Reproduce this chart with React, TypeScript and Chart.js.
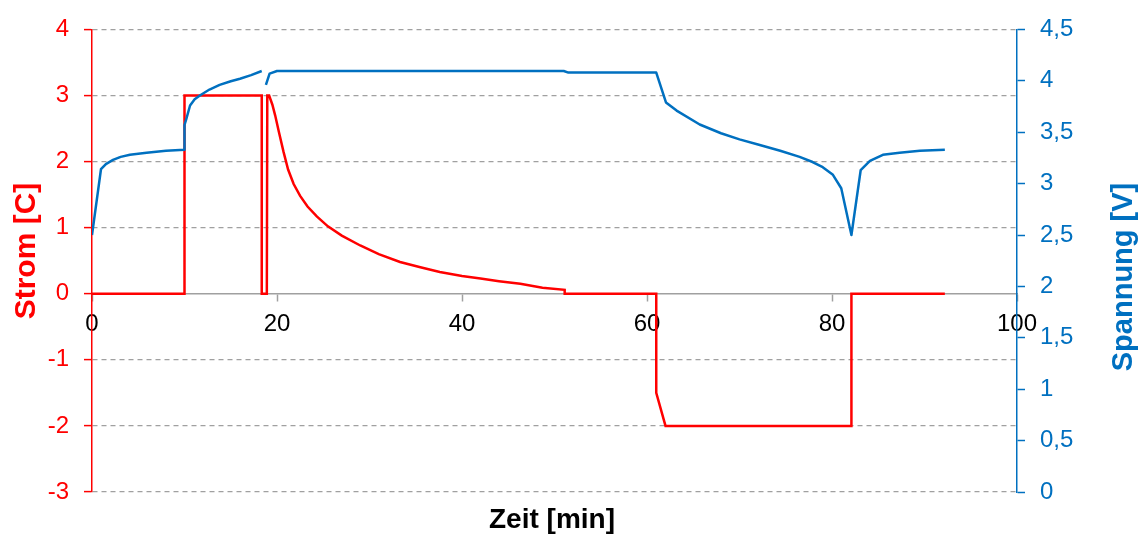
import React, { useEffect, useRef } from 'react';
import { Chart, registerables } from 'chart.js';

Chart.register(...registerables);

// ---- Data ----
const currentTime = [0, 10, 10, 18.35, 18.35, 18.9, 18.95, 19.15, 19.5, 19.8, 20.2, 20.7, 21.2, 21.8, 22.5, 23.3, 24.3, 25.5, 27, 29, 31, 33.3, 35.5, 37.6, 40, 42, 44, 46.3, 48.7, 51.1, 51.1, 61.0, 61.0, 62.0, 82.1, 82.1, 92.2];
const currentValues = [0, 0, 3, 3, 0, 0, 3, 3, 2.86, 2.7, 2.45, 2.15, 1.88, 1.66, 1.48, 1.32, 1.17, 1.02, 0.88, 0.73, 0.6, 0.48, 0.4, 0.33, 0.27, 0.23, 0.19, 0.15, 0.09, 0.06, 0, 0, -1.5, -2, -2, 0, 0];

const voltageTime = [0, 0.97, 1.5, 2.27, 3.1, 4.1, 5.9, 8, 10, 10, 10.2, 10.6, 11.1, 11.7, 12.7, 13.8, 15, 16, 17.2, 18.35, 18.6, 18.8, 19.2, 20, 51, 51.5, 61.0, 62.05, 63.2, 65.7, 68, 70, 72, 74.4, 76.5, 77.9, 79, 80.1, 81.0, 82.1, 83.1, 84.1, 85.5, 87.3, 89.5, 92.2];
const voltageValues: (number | null)[] = [2.5, 3.14, 3.19, 3.23, 3.26, 3.28, 3.30, 3.32, 3.33, 3.57, 3.63, 3.76, 3.82, 3.86, 3.915, 3.96, 3.995, 4.02, 4.055, 4.095, null, 3.96, 4.07, 4.095, 4.095, 4.08, 4.08, 3.79, 3.71, 3.575, 3.49, 3.43, 3.38, 3.32, 3.26, 3.21, 3.16, 3.085, 2.955, 2.5, 3.13, 3.22, 3.28, 3.30, 3.32, 3.33];

const timeTicks = [0, 20, 40, 60, 80, 100];
const currentTicks = [-3, -2, -1, 0, 1, 2, 3, 4];
const voltageTicks = [0, 0.5, 1, 1.5, 2, 2.5, 3, 3.5, 4, 4.5];

const xTitle = 'Zeit [min]';
const currentTitle = 'Strom [C]';
const voltageTitle = 'Spannung [V]';

const RED = '#FF0000';
const BLUE = '#0070C0';
const GRID = '#A0A0A0';
const FONT = "'Liberation Sans', Arial, sans-serif";

const titlePlugin = {
  id: 'axisTitles',
  afterDraw(chart: any) {
    const ctx = chart.ctx as CanvasRenderingContext2D;
    ctx.save();
    ctx.textBaseline = 'alphabetic';
    ctx.textAlign = 'center';
    // x title
    ctx.fillStyle = '#000000';
    ctx.font = `bold 28px ${FONT}`;
    ctx.fillText(xTitle, 552, 528);
    // left title
    ctx.save();
    ctx.translate(35, 251);
    ctx.rotate(-Math.PI / 2);
    ctx.fillStyle = RED;
    ctx.font = `bold 30px ${FONT}`;
    ctx.fillText(currentTitle, 0, 0);
    ctx.restore();
    // right title
    ctx.save();
    ctx.translate(1132, 277);
    ctx.rotate(-Math.PI / 2);
    ctx.fillStyle = BLUE;
    ctx.font = `bold 29px ${FONT}`;
    ctx.fillText(voltageTitle, 0, 0);
    ctx.restore();
    ctx.restore();
  },
};

export default function App() {
  const canvasRef = useRef<HTMLCanvasElement | null>(null);

  useEffect(() => {
    if (!canvasRef.current) return;
    const currentData = currentTime.map((t, i) => ({ x: t, y: currentValues[i] }));
    const voltageData = voltageTime.map((t, i) => ({ x: t, y: voltageValues[i] }));

    const chart = new Chart(canvasRef.current, {
      type: 'line',
      data: {
        datasets: [
          {
            label: 'Spannung',
            data: voltageData as any,
            yAxisID: 'y1',
            borderColor: BLUE,
            backgroundColor: BLUE,
            borderWidth: 2.5,
            pointRadius: 0,
            tension: 0,
            spanGaps: false,
            borderJoinStyle: 'round',
          },
          {
            label: 'Strom',
            data: currentData as any,
            yAxisID: 'y',
            borderColor: RED,
            backgroundColor: RED,
            borderWidth: 2.5,
            pointRadius: 0,
            tension: 0,
            borderJoinStyle: 'miter',
          },
        ],
      },
      options: {
        animation: false,
        responsive: true,
        maintainAspectRatio: false,
        layout: { padding: { top: 27, bottom: 46, left: 0, right: 0 } },
        plugins: {
          legend: { display: false },
          tooltip: { enabled: false },
        },
        font: { family: FONT },
        scales: {
          x: {
            type: 'linear',
            position: { y: 0 } as any,
            min: 0,
            max: 100,
            afterBuildTicks: (s: any) => { s.ticks = timeTicks.map((v) => ({ value: v })); },
            grid: { drawOnChartArea: false, tickLength: 7, tickColor: GRID, tickWidth: 1.5 },
            border: { color: GRID, width: 1.5 },
            ticks: { color: '#000000', font: { family: FONT, size: 24 }, padding: 9, maxRotation: 0, autoSkip: false },
          },
          y: {
            type: 'linear',
            position: 'left',
            min: -3,
            max: 4,
            afterBuildTicks: (s: any) => { s.ticks = currentTicks.map((v) => ({ value: v })); },
            afterFit: (s: any) => { s.width = 92; },
            grid: {
              color: (c: any) => (c.tick && c.tick.value === 0 ? 'rgba(0,0,0,0)' : GRID),
              lineWidth: 1.2,
              tickColor: RED,
              tickLength: 8,
              tickWidth: 1.5,
            },
            border: { color: RED, width: 1.5, dash: [5, 4] },
            ticks: { color: RED, font: { family: FONT, size: 24 }, padding: 15 },
          },
          y1: {
            type: 'linear',
            position: 'right',
            min: 0,
            max: 4.5,
            afterBuildTicks: (s: any) => { s.ticks = voltageTicks.map((v) => ({ value: v })); },
            afterFit: (s: any) => { s.width = 125; },
            grid: { drawOnChartArea: false, tickColor: BLUE, tickLength: 8, tickWidth: 1.5 },
            border: { color: BLUE, width: 1.5 },
            ticks: {
              color: BLUE,
              font: { family: FONT, size: 24 },
              padding: 15,
              callback: (v: any) => String(v).replace('.', ','),
            },
          },
        },
      },
      plugins: [titlePlugin],
    });
    return () => chart.destroy();
  }, []);

  return (
    <div style={{ position: 'fixed', left: 0, top: 0, width: 1142, height: 538, background: '#fff' }}>
      <canvas ref={canvasRef} />
    </div>
  );
}
